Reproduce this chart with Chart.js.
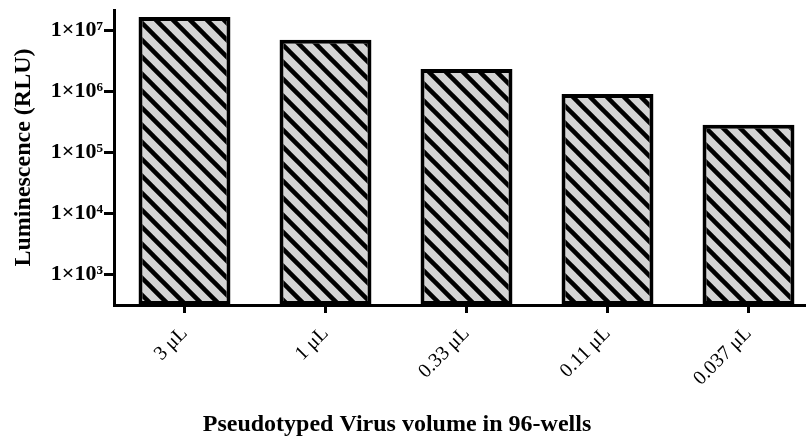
<!DOCTYPE html>
<html>
<head>
<meta charset="utf-8">
<script src="https://cdn.jsdelivr.net/npm/chart.js@4.4.1/dist/chart.umd.min.js"></script>
<style>
  html, body { margin: 0; padding: 0; background: #fff; overflow: hidden; }
  #wrap { width: 820px; height: 439px; }
</style>
</head>
<body>
<div id="wrap"><canvas id="chart" width="820" height="439"></canvas></div>
<script>
  // data
  const volumes = ['3 μL', '1 μL', '0.33 μL', '0.11 μL', '0.037 μL'];
  const luminescence = [1.63e7, 6.9e6, 2.3e6, 8.9e5, 2.8e5];
  const yTickValues = [1e3, 1e4, 1e5, 1e6, 1e7];
  const yTickLabels = ['1×10³', '1×10⁴', '1×10⁵', '1×10⁶', '1×10⁷'];
  const yTitle = 'Luminescence (RLU)';
  const xTitle = 'Pseudotyped Virus volume in 96-wells';

  const serif = "'Liberation Serif', 'Times New Roman', serif";

  // diagonal hatch fill (grey with black "\" stripes)
  function makeHatch() {
    const s = 17;
    const c = document.createElement('canvas');
    c.width = s; c.height = s;
    const g = c.getContext('2d');
    g.fillStyle = '#d4d4d4';
    g.fillRect(0, 0, s, s);
    g.strokeStyle = '#000';
    g.lineWidth = 4.5;
    [-s, 0, s].forEach(x0 => {
      g.beginPath();
      g.moveTo(x0 - 3, -3);
      g.lineTo(x0 + s + 3, s + 3);
      g.stroke();
    });
    return g.createPattern(c, 'repeat');
  }

  // x axis title sits left of the plot centre in the original
  const xTitlePlugin = {
    id: 'xTitle',
    afterDraw(chart) {
      const ctx = chart.ctx;
      ctx.save();
      ctx.font = 'bold 24px ' + serif;
      ctx.fillStyle = '#000';
      ctx.textAlign = 'center';
      ctx.textBaseline = 'middle';
      ctx.fillText(xTitle, 397, 425);
      ctx.restore();
    }
  };

  const canvas = document.getElementById('chart');
  new Chart(canvas, {
    type: 'bar',
    data: {
      labels: volumes,
      datasets: [{
        data: luminescence,
        backgroundColor: makeHatch(),
        borderColor: '#000',
        borderWidth: 4,
        borderSkipped: false,
        categoryPercentage: 1,
        barPercentage: 0.652
      }]
    },
    plugins: [xTitlePlugin],
    options: {
      responsive: false,
      animation: false,
      layout: { padding: { top: 10, right: 1, left: 0, bottom: 0 } },
      plugins: {
        legend: { display: false },
        tooltip: { enabled: false }
      },
      scales: {
        x: {
          type: 'category',
          offset: true,
          grid: {
            offset: false,
            drawOnChartArea: false,
            drawTicks: true,
            tickLength: 8,
            tickWidth: 3,
            tickColor: '#000'
          },
          border: { display: true, color: '#000', width: 3 },
          ticks: {
            color: '#000',
            font: { family: serif, size: 20 },
            maxRotation: 45,
            minRotation: 45,
            padding: 9
          },
          afterFit(scale) {
            scale.height = 134;
            scale.paddingLeft = 0;
            scale.paddingRight = 0;
          }
        },
        y: {
          type: 'logarithmic',
          min: Math.pow(10, 2.492),
          max: Math.pow(10, 7.328),
          grid: {
            drawOnChartArea: false,
            drawTicks: true,
            tickLength: 10,
            tickWidth: 3,
            tickColor: '#000'
          },
          border: { display: true, color: '#000', width: 3 },
          afterBuildTicks(scale) {
            scale.ticks = yTickValues.map(v => ({ value: v }));
          },
          ticks: {
            color: '#000',
            font: { family: serif, size: 22, weight: 'bold' },
            padding: 1,
            callback(value) {
              const i = yTickValues.indexOf(value);
              return i >= 0 ? yTickLabels[i] : '';
            }
          },
          title: {
            display: true,
            text: yTitle,
            color: '#000',
            font: { family: serif, size: 24, weight: 'bold' },
            padding: { top: 9, bottom: 0 }
          },
          afterFit(scale) {
            scale.width = 114;
            scale.paddingTop = 0;
            scale.paddingBottom = 0;
          }
        }
      }
    }
  });
</script>
</body>
</html>
